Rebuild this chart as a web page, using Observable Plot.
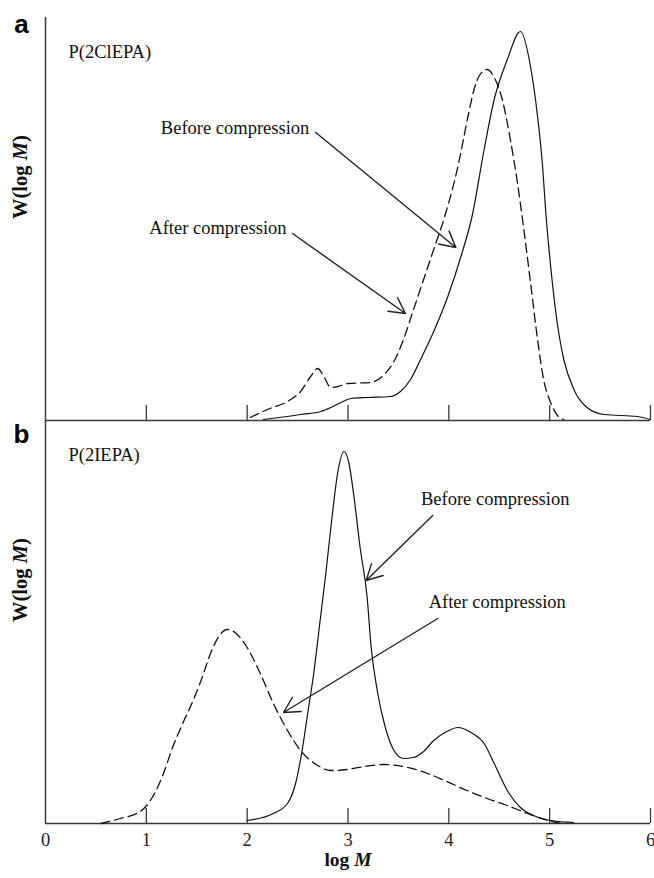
<!DOCTYPE html>
<html><head><meta charset="utf-8">
<script src="https://cdn.jsdelivr.net/npm/d3@7"></script>
<script src="https://cdn.jsdelivr.net/npm/@observablehq/plot@0.6"></script>
<style>
body{margin:0;background:#fff}
#chart svg{overflow:visible;display:block}
</style>
</head><body><div id="chart"></div>
<script>
// ---- data ----
const panels = ["a", "b"];
const panelTitles = ["P(2ClEPA)", "P(2IEPA)"];
const xTicks = [0, 1, 2, 3, 4, 5, 6];

// panel a: P(2ClEPA)
const aBeforeLogM = [2.16, 2.40, 2.53, 2.73, 2.83, 2.93, 3.03, 3.20, 3.42, 3.52, 3.62, 3.72, 3.85, 3.99, 4.12, 4.23, 4.35, 4.45, 4.58, 4.71, 4.81, 4.88, 4.93, 4.96, 5.01, 5.08, 5.14, 5.24, 5.37, 5.54, 5.87, 6.0];
const aBeforeW    = [1, 4, 6, 9, 13, 18, 22, 23, 24, 29, 41, 61, 89, 124, 164, 204, 271, 321, 361, 389, 354, 304, 254, 210, 154, 94, 61, 31, 13, 6, 4, 1];
const aAfterLogM  = [2.03, 2.20, 2.40, 2.53, 2.63, 2.70, 2.76, 2.83, 2.90, 3.00, 3.22, 3.35, 3.45, 3.55, 3.65, 3.75, 3.85, 3.95, 4.09, 4.19, 4.25, 4.31, 4.38, 4.45, 4.53, 4.61, 4.68, 4.74, 4.81, 4.88, 4.94, 5.01, 5.07, 5.14];
const aAfterW     = [3, 11, 19, 29, 44, 52, 44, 33, 34, 37, 38, 45, 58, 81, 111, 141, 171, 201, 254, 304, 331, 346, 351, 343, 321, 281, 238, 194, 138, 81, 41, 18, 6, 1];

// panel b: P(2IEPA)
const bBeforeLogM = [2.00, 2.26, 2.40, 2.48, 2.54, 2.60, 2.66, 2.72, 2.78, 2.84, 2.90, 2.96, 3.01, 3.06, 3.12, 3.19, 3.23, 3.29, 3.36, 3.44, 3.55, 3.65, 3.75, 3.85, 3.98, 4.09, 4.22, 4.35, 4.45, 4.58, 4.71, 4.84, 5.01, 5.24];
const bBeforeW    = [3, 10, 20, 40, 70, 110, 150, 200, 250, 305, 352, 372, 360, 326, 276, 226, 176, 133, 100, 76, 65, 66, 72, 83, 92, 96, 91, 80, 60, 33, 16, 8, 3, 1];
const bAfterLogM  = [0.55, 0.74, 0.94, 1.07, 1.17, 1.26, 1.36, 1.46, 1.55, 1.64, 1.72, 1.80, 1.88, 1.93, 2.00, 2.13, 2.26, 2.40, 2.53, 2.70, 2.83, 2.99, 3.16, 3.36, 3.55, 3.79, 3.98, 4.18, 4.38, 4.58, 4.78, 4.98, 5.11];
const bAfterW     = [0, 5, 12, 28, 50, 76, 100, 122, 145, 171, 187, 194, 191, 186, 176, 150, 120, 93, 73, 58, 53, 54, 57, 59, 57, 50, 42, 33, 25, 18, 10, 3, 0];

// annotations (in data coordinates)
const noteText  = ["Before compression", "After compression", "Before compression", "After compression"];
const notePanel = ["a", "a", "b", "b"];
const noteLogM  = [1.88, 1.71, 4.46, 4.48];
const noteW     = [292, 192, 324, 221];
const arrowLogM1 = [2.68, 2.45, 3.84, 3.89];
const arrowW1    = [288, 187, 308, 205];
const arrowLogM2 = [4.07, 3.57, 3.18, 2.36];
const arrowW2    = [173, 107, 243, 111];

// ---- build tables ----
const rows = [];
function add(panel, series, xs, ws) { xs.forEach((x, i) => rows.push({panel, series, x, w: ws[i]})); }
add("a", "before", aBeforeLogM, aBeforeW);
add("a", "after", aAfterLogM, aAfterW);
add("b", "before", bBeforeLogM, bBeforeW);
add("b", "after", bAfterLogM, bAfterW);
const notes = noteText.map((t, i) => ({panel: notePanel[i], text: t, x: noteLogM[i], w: noteW[i]}));
const arrows = notePanel.map((p, i) => ({panel: p, x1: arrowLogM1[i], y1: arrowW1[i], x2: arrowLogM2[i], y2: arrowW2[i]}));
const titles = panels.map((p, i) => ({panel: p, text: panelTitles[i]}));
const tickLabels = xTicks.map(v => ({panel: "b", v}));

const serif = "'Liberation Serif', 'Times New Roman', Times, serif";
const sans = "'Liberation Sans', Arial, Helvetica, sans-serif";
const axisColor = "#3a3a3a";

const chart = Plot.plot({
  width: 654,
  height: 878,
  marginLeft: 45,
  marginRight: 4,
  marginTop: 17,
  marginBottom: 55,
  style: {fontFamily: serif, fontSize: "17px", background: "#fff"},
  x: {domain: [0, 6], axis: null},
  y: {domain: [0, 403], axis: null},
  fy: {domain: panels, axis: null, padding: 0},
  marks: [
    // axis frame lines
    Plot.ruleY([0], {stroke: axisColor, strokeWidth: 1.5}),
    Plot.ruleX([0], {stroke: axisColor, strokeWidth: 1.5}),
    // inward ticks
    Plot.ruleX(xTicks.filter(d => d > 0), {x: d => d, y1: 0, y2: 15, stroke: axisColor, strokeWidth: 1.3}),
    // tick labels (bottom panel only)
    Plot.text(tickLabels, {x: "v", fy: "panel", text: d => String(d.v), frameAnchor: "bottom", dy: 9, lineAnchor: "top", fontSize: 18.5, fill: "#222"}),
    // curves
    Plot.line(rows.filter(d => d.series === "before"), {x: "x", y: "w", z: "panel", fy: "panel", curve: "monotone-x", stroke: "#111", strokeWidth: 1.2}),
    Plot.line(rows.filter(d => d.series === "after"), {x: "x", y: "w", z: "panel", fy: "panel", curve: "monotone-x", stroke: "#111", strokeWidth: 1.3, strokeDasharray: "9,5"}),
    // annotations
    Plot.text(notes, {x: "x", y: "w", fy: "panel", text: "text", textAnchor: "middle", fontSize: 18.5, fill: "#111"}),
    Plot.arrow(arrows, {x1: "x1", y1: "y1", x2: "x2", y2: "y2", fy: "panel", stroke: "#222", strokeWidth: 1.4, headLength: 19, headAngle: 56}),
    // panel titles
    Plot.text(titles, {fy: "panel", text: "text", frameAnchor: "top-left", dx: 23, dy: 40, lineAnchor: "bottom", textAnchor: "start", fontSize: 18.5, fill: "#111"}),
    // panel letters
    Plot.text([{panel: "a", t: "a"}], {fy: "panel", text: "t", frameAnchor: "top-left", dx: -24, dy: 15, lineAnchor: "bottom", textAnchor: "middle", fontFamily: sans, fontWeight: "bold", fontSize: 26, fill: "#000"}),
    Plot.text([{panel: "b", t: "b"}], {fy: "panel", text: "t", frameAnchor: "top-left", dx: -24, dy: 22, lineAnchor: "bottom", textAnchor: "middle", fontFamily: sans, fontWeight: "bold", fontSize: 26, fill: "#000"}),
    // y-axis labels
    Plot.text(panels, {fy: d => d, text: () => "W(log M)", frameAnchor: "left", dx: -25, rotate: -90, fontWeight: "bold", fontSize: 20.5, fill: "#111"}),
    // x-axis label
    Plot.text([{panel: "b", t: "log M"}], {fy: "panel", text: "t", frameAnchor: "bottom", dy: 42, fontWeight: "bold", fontSize: 19.5, fill: "#111"})
  ]
});

// italic M in the axis labels
d3.select(chart).selectAll("text").each(function () {
  const s = this.textContent;
  if (s === "W(log M)" || s === "log M") {
    const t = d3.select(this);
    const pre = s === "log M" ? "log " : "W(log ";
    const post = s === "log M" ? "" : ")";
    t.text(null);
    t.append("tspan").text(pre);
    t.append("tspan").attr("font-style", "italic").text("M");
    if (post) t.append("tspan").text(post);
  }
});

document.getElementById("chart").append(chart);
</script>
</body></html>
